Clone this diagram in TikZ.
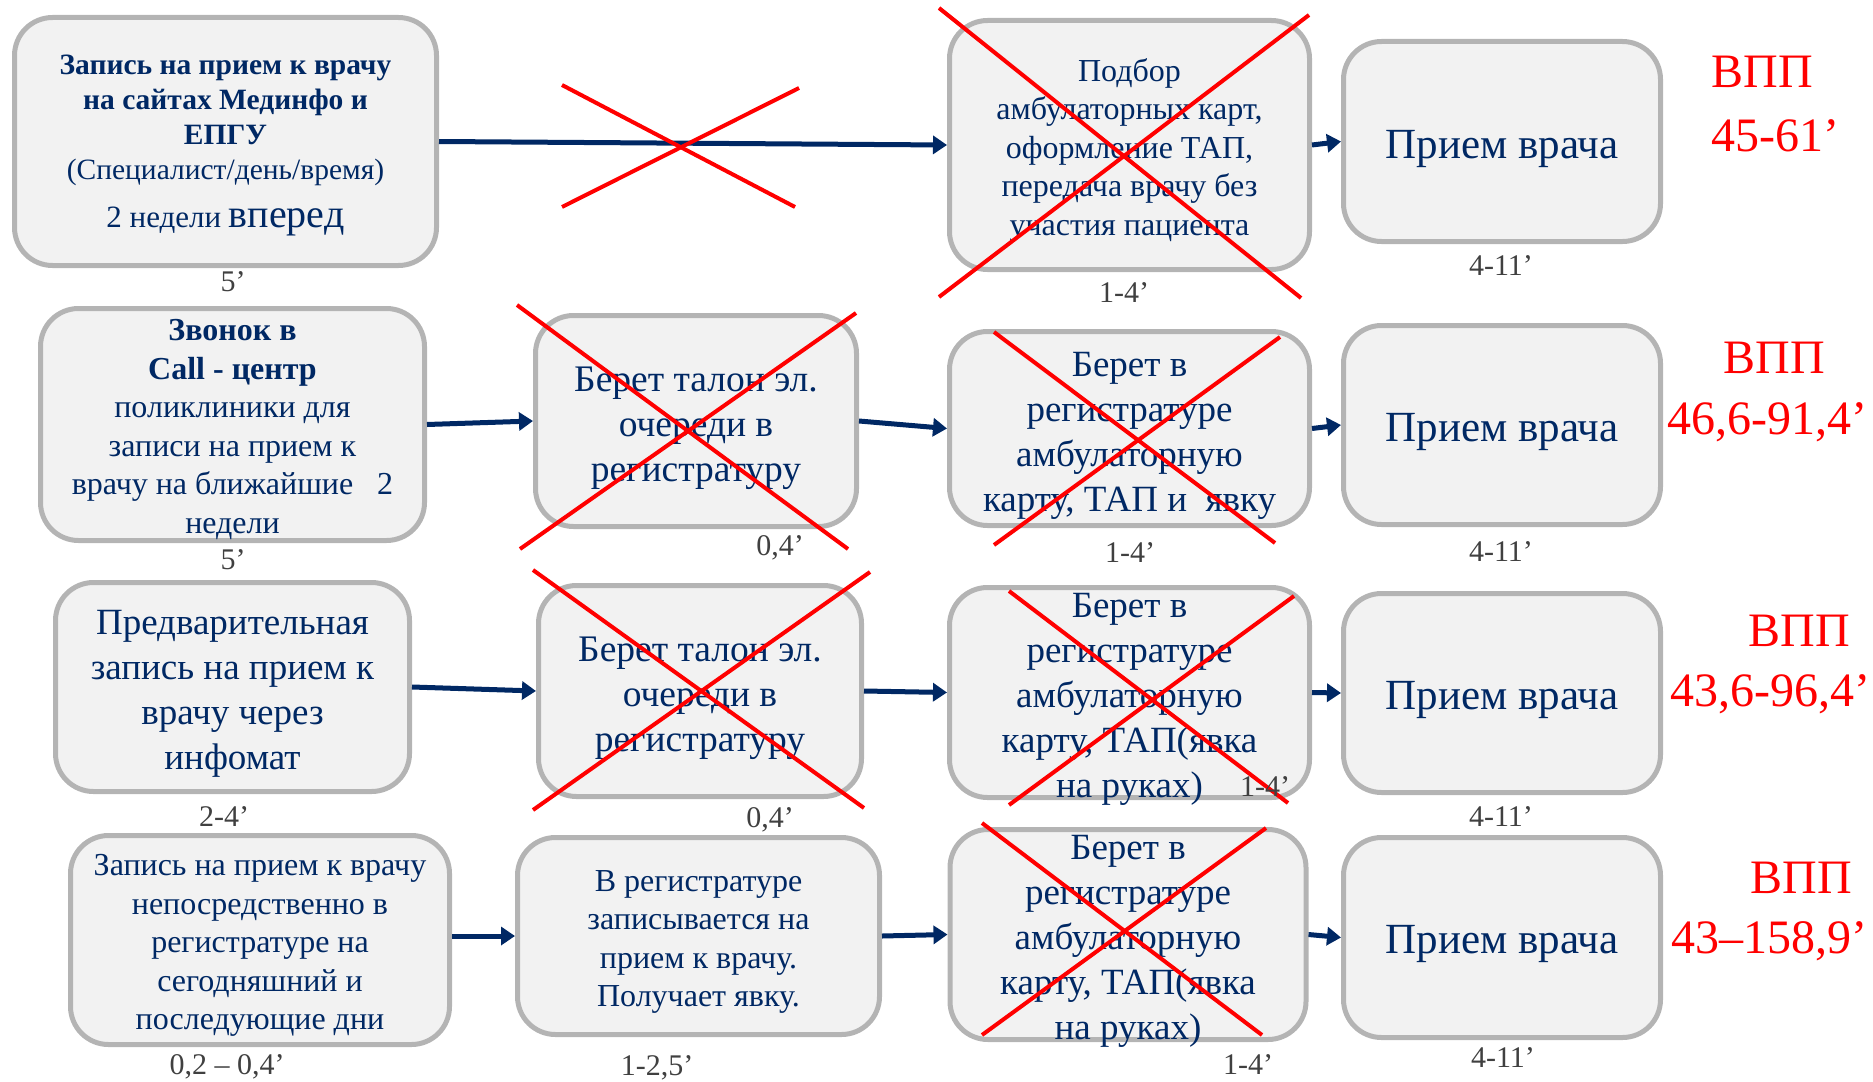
\documentclass[tikz,border=0pt]{standalone}
\usepackage{fontspec}
\setmainfont{Liberation Serif}
\usetikzlibrary{arrows.meta}
\definecolor{navy}{RGB}{0,40,100}
\definecolor{boxgray}{RGB}{180,180,180}
\definecolor{boxfill}{RGB}{242,242,242}
\definecolor{lblgray}{RGB}{64,64,64}
\definecolor{xred}{RGB}{255,0,0}
\begin{document}
\begin{tikzpicture}[x=1pt,y=-1pt,
  box/.style={draw=boxgray, line width=5pt, fill=boxfill, rounded corners=38pt, inner sep=0pt},
  txt/.style={align=center, inner sep=0pt, text=navy},
  flow/.style={draw=navy, line width=5pt, -{Triangle[length=14pt,width=18pt]}},
  cross/.style={draw=xred, line width=4pt},
  lbl/.style={text=lblgray, font=\fontsize{30}{32}\selectfont, inner sep=0pt},
  vpp/.style={text=xred, font=\fontsize{48}{56}\selectfont, inner sep=0pt},
  fsmall/.style={font=\fontsize{32}{38.5}\selectfont},
  fmid/.style={font=\fontsize{37}{45}\selectfont},
  fbig/.style={font=\fontsize{37.5}{45}\selectfont},
  fdoc/.style={font=\fontsize{43}{48}\selectfont}]
\useasboundingbox (0,0) rectangle (1873,1081);

% Row 1
\node[box, minimum width=422, minimum height=248] (A1) at (225.5,141.5) {};
\node[txt, font=\fontsize{29.5}{35}\selectfont] (A1t) at (225.5,120)
  {\textbf{Запись на прием к врачу}\\\textbf{на сайтах Мединфо и}\\\textbf{ЕПГУ}\\(Специалист/день/время)};
\node[txt, font=\fontsize{31}{35}\selectfont] (A1u) at (225.5,221)
  {2 недели {\fontsize{40}{40}\selectfont вперед}};
\node[box, minimum width=360, minimum height=249] (C1) at (1129.5,145) {};
\node[txt, fsmall] (C1t) at ([yshift=-5pt]C1.center)
  {Подбор\\амбулаторных карт,\\оформление ТАП,\\передача врачу без\\участия пациента};
\node[box, minimum width=317, minimum height=200] (D1) at (1502,141.5) {};
\node[txt, fdoc] (D1t) at ([yshift=-7pt]D1.center) {Прием врача};

% Row 2
\node[box, minimum width=384, minimum height=232] (A2) at (232.5,424.5) {};
\node[txt, font=\fontsize{32}{38.5}\selectfont] (A2t) at ([yshift=-5pt]A2.center)
  {\textbf{Звонок в}\\\textbf{Call - центр}\\поликлиники для\\записи на прием к\\врачу на ближайшие \ \ 2\\недели};
\node[box, minimum width=321, minimum height=211] (B2) at (696,421) {};
\node[txt, fbig] (B2t) at ([yshift=-7.5pt]B2.center)
  {Берет талон эл.\\очереди в\\регистратуру};
\node[box, minimum width=360, minimum height=194] (C2) at (1129.5,428.5) {};
\node[txt, fmid] (C2t) at ([yshift=-7pt]C2.center)
  {Берет в\\регистратуре\\амбулаторную\\карту, ТАП и \ явку};
\node[box, minimum width=317, minimum height=199] (D2) at (1502,425) {};
\node[txt, fdoc] (D2t) at ([yshift=-7pt]D2.center) {Прием врача};

% Row 3
\node[box, minimum width=354, minimum height=209] (A3) at (232.5,687) {};
\node[txt, fmid] (A3t) at ([yshift=-7pt]A3.center)
  {Предварительная\\запись на прием к\\врачу через\\инфомат};
\node[box, minimum width=323, minimum height=211] (B3) at (700,691) {};
\node[txt, fbig] (B3t) at ([yshift=-7.5pt]B3.center)
  {Берет талон эл.\\очереди в\\регистратуру};
\node[box, minimum width=360, minimum height=210] (C3) at (1129.5,692.5) {};
\node[txt, fmid] (C3t) at ([yshift=-6.5pt]C3.center)
  {Берет в\\регистратуре\\амбулаторную\\карту, ТАП(явка\\на руках)};
\node[box, minimum width=317, minimum height=199] (D3) at (1502,693) {};
\node[txt, fdoc] (D3t) at ([yshift=-7pt]D3.center) {Прием врача};

% Row 4
\node[box, minimum width=379, minimum height=209] (A4) at (260,940) {};
\node[txt, fsmall] (A4t) at ([yshift=-5.5pt]A4.center)
  {Запись на прием к врачу\\непосредственно в\\регистратуре на\\сегодняшний и\\последующие дни};
\node[box, minimum width=362, minimum height=197] (B4) at (698.5,936) {};
\node[txt, fsmall] (B4t) at ([yshift=-6pt]B4.center)
  {В регистратуре\\записывается на\\прием к врачу.\\Получает явку.};
\node[box, minimum width=356, minimum height=210] (C4) at (1128,934.5) {};
\node[txt, fmid] (C4t) at ([yshift=-7pt]C4.center)
  {Берет в\\регистратуре\\амбулаторную\\карту, ТАП(явка\\на руках)};
\node[box, minimum width=317, minimum height=200] (D4) at (1502,937.5) {};
\node[txt, fdoc] (D4t) at ([yshift=-6pt]D4.center) {Прием врача};

% Connectors
\draw[flow] (A1.east) -- (C1.west);
\draw[flow] (C1.east) -- (D1.west);
\draw[flow] (A2.east) -- (B2.west);
\draw[flow] (B2.east) -- (C2.west);
\draw[flow] (C2.east) -- (D2.west);
\draw[flow] (A3.east) -- (B3.west);
\draw[flow] (B3.east) -- (C3.west);
\draw[flow] (C3.east) -- (D3.west);
\draw[flow] ([yshift=4pt]A4.east) -- (B4.west);
\draw[flow] (B4.east) -- (C4.west);
\draw[flow] (C4.east) -- (D4.west);

% Red crosses
\draw[cross] (562,85) -- (795,207);
\draw[cross] (799,88) -- (562,207);
\draw[cross] (939,8) -- (1301,298);
\draw[cross] (1309,15) -- (939,297);
\draw[cross] (517,305) -- (848,549);
\draw[cross] (856,313) -- (520,549);
\draw[cross] (994,332) -- (1275,543);
\draw[cross] (1280,337) -- (994,545);
\draw[cross] (533,570) -- (864,808);
\draw[cross] (870,572) -- (533,810);
\draw[cross] (1009,591) -- (1288,803);
\draw[cross] (1294,596) -- (1009,805);
\draw[cross] (982,823) -- (1262,1035);
\draw[cross] (1266,828) -- (982,1035);

% Time labels
\node[lbl] (t11) at (233,282) {5’};
\node[lbl] (t13) at (1124,293) {1-4’};
\node[lbl] (t14) at (1501,266) {4-11’};
\node[lbl] (t21) at (233,560) {5’};
\node[lbl] (t22) at (780,548) {0,4’};
\node[lbl] (t23) at (1130,553) {1-4’};
\node[lbl] (t24) at (1501,552) {4-11’};
\node[lbl] (t31) at (224,817) {2-4’};
\node[lbl] (t32) at (770,820) {0,4’};
\node[lbl] (t33) at (1265,787) {1-4’};
\node[lbl] (t34) at (1501,817) {4-11’};
\node[lbl] (t41) at (227,1067) {0,2 – 0,4’};
\node[lbl] (t42) at (657,1068) {1-2,5’};
\node[lbl] (t43) at (1248,1065) {1-4’};
\node[lbl] (t44) at (1503,1058) {4-11’};

% VPP totals
\node[vpp] (v1) at (1762,72) {ВПП};
\node[vpp] (n1) at (1775,136) {45-61’};
\node[vpp] (v2) at (1774,358) {ВПП};
\node[vpp] (n2) at (1767,422) {46,6-91,4’};
\node[vpp] (v3) at (1799,631) {ВПП};
\node[vpp] (n3) at (1770,694) {43,6-96,4’};
\node[vpp] (v4) at (1801,878) {ВПП};
\node[vpp] (n4) at (1769,941) {43–158,9’};
\end{tikzpicture}
\end{document}
